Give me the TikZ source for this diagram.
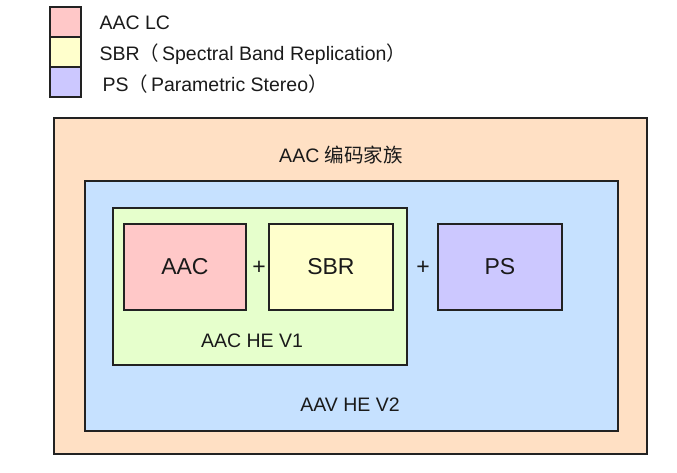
\documentclass[tikz,border=0pt]{standalone}
\usepackage{fontspec}
\setmainfont{Liberation Sans}
\newfontfamily\cjk{Noto Sans CJK SC}
\definecolor{cpeach}{HTML}{FFE0C4}
\definecolor{cblue}{HTML}{C6E1FF}
\definecolor{cgreen}{HTML}{E6FFCC}
\definecolor{cpink}{HTML}{FFC8C8}
\definecolor{cyellow}{HTML}{FFFFCC}
\definecolor{cpurple}{HTML}{CCC8FF}
\definecolor{cline}{HTML}{222222}
\definecolor{ctext}{HTML}{1A1A1A}
\newcommand{\lpar}{{\cjk （}\hspace{3pt}}
\newcommand{\rpar}{{\cjk ）}}
\tikzset{
  box/.style={draw=cline, line width=1.8pt, inner sep=0pt, anchor=north west},
  lab/.style={font=\fontsize{19.5}{23}\selectfont, text=ctext},
  big/.style={font=\fontsize{23}{27}\selectfont, text=ctext},
  leglab/.style={font=\fontsize{19.5}{22}\selectfont, anchor=west, text=ctext},
}
\begin{document}
\begin{tikzpicture}[x=1pt,y=-1pt]
\useasboundingbox (0,0) rectangle (677,472);
% legend
\node[box, fill=cpink, minimum width=31pt, minimum height=30pt] (l1) at (49,6) {};
\node[box, fill=cyellow, minimum width=31pt, minimum height=30pt] (l2) at (49,36) {};
\node[box, fill=cpurple, minimum width=31pt, minimum height=30pt] (l3) at (49,66) {};
\node[leglab] (t1) at (96,23) {AAC LC};
\node[leglab] (t2) at (96,54) {SBR\lpar Spectral Band Replication\rpar};
\node[leglab] (t3) at (99,84) {PS\lpar Parametric Stereo\rpar};
% outer
\node[box, fill=cpeach, minimum width=593pt, minimum height=336pt] (outer) at (53,117) {};
\node[lab] (ttl) at (341,155) {AAC {\cjk 编码家族}};
\node[box, fill=cblue, minimum width=533pt, minimum height=250pt] (v2) at (84,180) {};
\node[lab] (v2t) at (350,405) {AAV HE V2};
\node[box, fill=cgreen, minimum width=294pt, minimum height=157pt] (v1) at (112,207) {};
\node[lab] (v1t) at (252,341) {AAC HE V1};
\node[box, fill=cpink, minimum width=122pt, minimum height=86pt] (aac) at (123,223) {};
\node[big] at (aac.center) {AAC};
\node[box, fill=cyellow, minimum width=124pt, minimum height=86pt] (sbr) at (268,223) {};
\node[big] at (sbr.center) {SBR};
\node[box, fill=cpurple, minimum width=124pt, minimum height=86pt] (ps) at (437,223) {};
\node[big] at (ps.center) {PS};
\node[big] (p1) at (259,268) {+};
\node[big] (p2) at (423,268) {+};
\end{tikzpicture}
\end{document}
